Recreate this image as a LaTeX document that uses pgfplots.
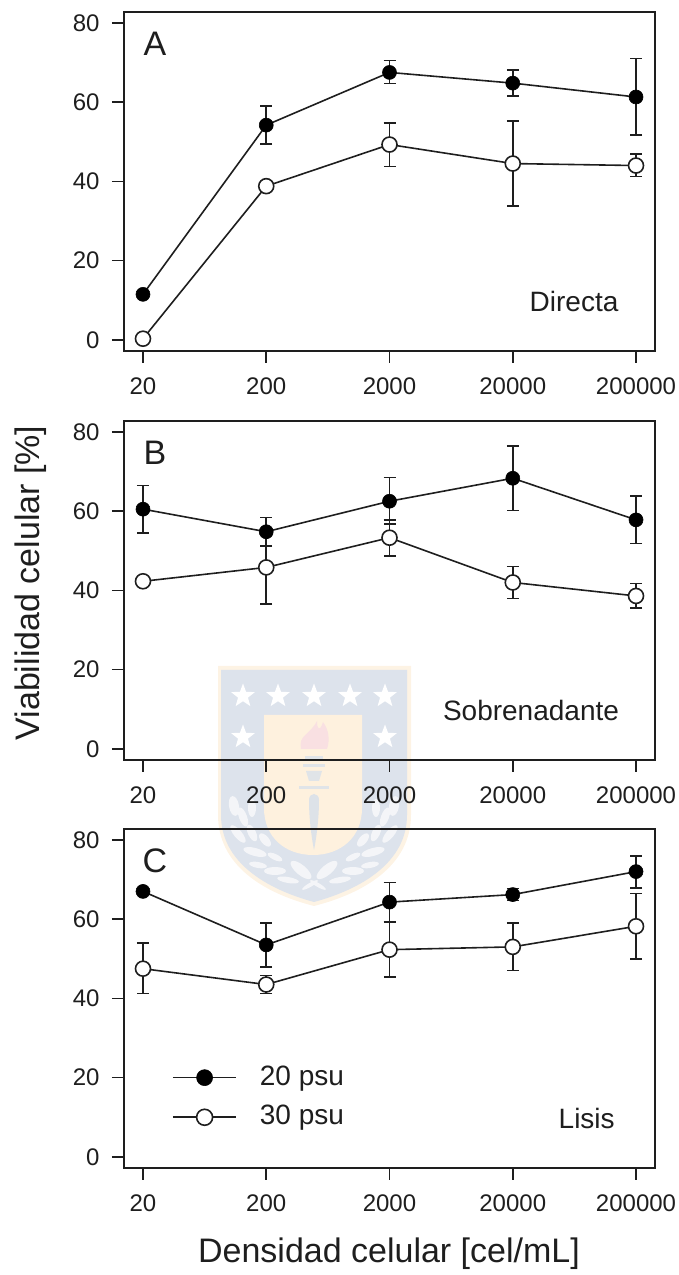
\documentclass[border=0pt]{standalone}
\usepackage{pgfplots}
\pgfplotsset{compat=1.18}
\usepackage{pgfplotstable}
\usepackage{fontspec}
\setmainfont{Liberation Sans}
\usetikzlibrary{shapes.geometric}
\definecolor{ink}{HTML}{1E1E1E}

\pgfplotstableread{
x y ep em
0 11.5 0.8 0.8
1 54.2 4.8 4.7
2 67.5 3.0 2.8
3 64.8 3.3 3.3
4 61.3 9.7 9.6
}\Afill
\pgfplotstableread{
x y ep em
0 0.3 0.3 0.3
1 38.8 0.6 0.6
2 49.3 5.5 5.5
3 44.5 10.7 10.7
4 44.0 2.9 2.8
}\Aopen
\pgfplotstableread{
x y ep em
0 60.5 6.0 6.0
1 54.8 3.6 3.6
2 62.5 6.0 5.8
3 68.3 8.2 8.1
4 57.8 6.0 6.0
}\Bfill
\pgfplotstableread{
x y ep em
0 42.3 0.6 0.6
1 45.8 9.3 9.3
2 53.3 4.5 4.6
3 42.0 4.0 4.0
4 38.6 3.1 3.1
}\Bopen
\pgfplotstableread{
x y ep em
0 67.0 0.6 0.6
1 53.5 5.5 5.5
2 64.3 4.9 4.9
3 66.2 1.5 1.5
4 72.0 4.0 4.2
}\Cfill
\pgfplotstableread{
x y ep em
0 47.5 6.5 6.3
1 43.5 2.3 2.3
2 52.3 7.0 6.9
3 53.0 6.0 6.0
4 58.2 8.3 8.2
}\Copen

\tikzset{
  lab/.style={font=\fontsize{28}{32}\selectfont, text=ink},
  letter/.style={font=\fontsize{34}{38}\selectfont, text=ink},
}
\pgfplotsset{
  panel/.style={
    scale only axis, width=531pt, height=339pt,
    anchor=south west,
    xmin=-0.154, xmax=4.154, ymin=-2.8, ymax=82.75,
    xtick={0,1,2,3,4},
    xticklabels={20,200,2000,20000,200000},
    ytick={0,20,40,60,80},
    tick align=outside, tick pos=lower,
    major tick length=12pt,
    axis line style={line width=1.6pt, ink},
    every tick/.style={line width=1.6pt, ink},
    tick label style={font=\fontsize{24}{28}\selectfont, text=ink},
    xticklabel style={yshift=-11pt},
    yticklabel style={xshift=-9pt},
    /pgf/number format/assume math mode=true,
    clip=false,
  },
  fillser/.style={
    line width=1.6pt, ink, mark=*, mark size=7pt,
    mark options={fill=black, draw=black, line width=0.6pt, solid},
    error bars/.cd, y dir=both, y explicit,
    error bar style={line width=1.6pt, ink},
    error mark options={rotate=90, mark size=6pt, line width=1.6pt, ink},
  },
  openser/.style={
    line width=1.6pt, ink, mark=*, mark size=7.5pt,
    mark options={fill=white, draw=ink, line width=1.6pt, solid},
    error bars/.cd, y dir=both, y explicit,
    error bar style={line width=1.6pt, ink},
    error mark options={rotate=90, mark size=6pt, line width=1.6pt, ink},
  },
}
\newcommand{\series}[2]{\addplot[#1] table[x=x,y=y,y error plus=ep,y error minus=em] {#2};}

\begin{document}
\begin{tikzpicture}[x=1pt,y=1pt]
\useasboundingbox (0,0) rectangle (679,1275);

% watermark (shield), coordinates in image pixels
\begin{scope}[yshift=1275pt,yscale=-1]
  \fill[color={rgb,255:red,253;green,243;blue,228}] (218,666) -- (411,666) -- (411,815)
     .. controls (411,865) and (365,893) .. (314,906)
     .. controls (263,893) and (218,865) .. (218,815) -- cycle;
  \fill[color={rgb,255:red,221;green,227;blue,236}] (221,670) -- (407,670) -- (407,815)
     .. controls (407,862) and (362,889) .. (314,902)
     .. controls (266,889) and (221,862) .. (221,815) -- cycle;
  \fill[color={rgb,255:red,254;green,241;blue,222}] (264,715) -- (362,715) -- (362,808)
     .. controls (362,838) and (340,855) .. (313,855)
     .. controls (286,855) and (264,838) .. (264,808) -- cycle;
  \foreach \px/\py in {243/696,278/696,314/696,350/696,385/696,243/737,385/737}
    \node[star, star points=5, star point ratio=2.4, minimum size=25pt, inner sep=0pt, fill=white] at (\px,\py) {};
  \fill[color={rgb,255:red,249;green,224;blue,226}] (301,749) .. controls (298,735) and (310,735) .. (317,721)
     .. controls (317,730) and (320,732) .. (323,722) .. controls (329,730) and (330,740) .. (327,749) -- cycle;
  \fill[color={rgb,255:red,224;green,228;blue,232}] (305,756) rectangle (323,760);
  \fill[color={rgb,255:red,224;green,228;blue,232}] (303,764) rectangle (325,767);
  \fill[color={rgb,255:red,224;green,228;blue,232}] (306,771) -- (322,771) -- (319,781) -- (309,781) -- cycle;
  \fill[color={rgb,255:red,224;green,228;blue,232}] (299,786) rectangle (329,789);
  \fill[color={rgb,255:red,221;green,226;blue,232}] (309,800) .. controls (309,792) and (319,792) .. (319,800)
     .. controls (319,820) and (316,840) .. (314,850) .. controls (312,840) and (309,820) .. (309,800) -- cycle;
  \foreach \lx/\ly/\ra/\rw/\rh in {
     234/806/80/10/5, 243/817/70/10/4, 252/808/90/9/4, 238/834/50/11/4, 252/833/65/9/4,
     265/840/50/8/4, 255/852/15/12/4, 275/857/25/8/3, 258/865/10/9/3, 275/871/0/11/4,
     288/880/10/11/3, 301/870/40/13/5, 310/885/-30/9/2}{
    \fill[color={rgb,255:red,244;green,245;blue,248}, rotate around={\ra:(\lx,\ly)}] (\lx,\ly) ellipse ({\rw} and {\rh});
    \pgfmathsetmacro{\mx}{628-\lx}
    \pgfmathsetmacro{\mr}{-\ra}
    \fill[color={rgb,255:red,244;green,245;blue,248}, rotate around={\mr:(\mx,\ly)}] (\mx,\ly) ellipse ({\rw} and {\rh});
  }
\end{scope}

% Panel A
\begin{axis}[panel, at={(124pt,924pt)}]
  \series{fillser}{\Afill}
  \series{openser}{\Aopen}
  \node[letter] at (axis cs:0.097,74.7) {A};
  \node[lab] at (axis cs:3.497,9.8) {Directa};
\end{axis}
% Panel B
\begin{axis}[panel, at={(124pt,515pt)}]
  \series{fillser}{\Bfill}
  \series{openser}{\Bopen}
  \node[letter] at (axis cs:0.097,74.7) {B};
  \node[lab] at (axis cs:3.148,9.8) {Sobrenadante};
\end{axis}
% Panel C
\begin{axis}[panel, at={(124pt,107pt)}]
  \series{fillser}{\Cfill}
  \series{openser}{\Copen}
  \addplot[line width=1.6pt, ink, mark=*, mark size=8pt, mark options={fill=black,draw=black,solid,line width=0.6pt}, mark indices={2}]
     coordinates {(0.243,20) (0.5,20) (0.754,20)};
  \addplot[line width=1.6pt, ink, mark=*, mark size=8pt, mark options={fill=white,draw=ink,solid,line width=1.6pt}, mark indices={2}]
     coordinates {(0.243,10) (0.5,10) (0.754,10)};
  \node[lab, anchor=west] at (axis cs:0.92,19.7) {20 psu};
  \node[lab, anchor=west] at (axis cs:0.92,9.8) {30 psu};
  \node[letter] at (axis cs:0.097,74.7) {C};
  \node[lab] at (axis cs:3.6,9.8) {Lisis};
\end{axis}

\node[font=\fontsize{34}{38}\selectfont, text=ink, rotate=90] at (31,692) {Viabilidad celular [\%]};
\node[font=\fontsize{34}{38}\selectfont, text=ink] at (389,21) {Densidad celular [cel/mL]};
\end{tikzpicture}
\end{document}
